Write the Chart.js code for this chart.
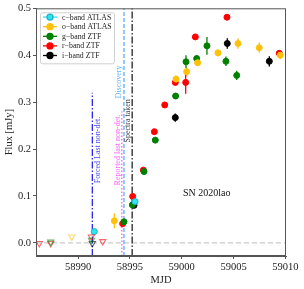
<!DOCTYPE html>
<html>
<head>
<meta charset="utf-8">
<script src="https://cdn.jsdelivr.net/npm/chart.js@4.4.0/dist/chart.umd.min.js"></script>
<style>
  html, body { margin: 0; padding: 0; background: #fff; }
  #wrap { width: 304px; height: 289px; }
</style>
</head>
<body>
<div id="wrap"><canvas id="lc" width="304" height="289"></canvas></div>
<script>
// axis ticks
const xTicks = [58990, 58995, 59000, 59005, 59010];
const yTicks = [0.0, 0.1, 0.2, 0.3, 0.4, 0.5];

// detections per band: MJD, flux [mJy], error
const cMjd  = [58991.57, 58995.50];
const cFlux = [0.024, 0.088];
const cErr  = [0.004, 0.004];

const oMjd  = [58993.50, 58999.45, 59000.47, 59001.53, 59003.49, 59005.42, 59007.47, 59009.50];
const oFlux = [0.047, 0.349, 0.365, 0.384, 0.405, 0.425, 0.416, 0.400];
const oErr  = [0.016, 0.008, 0.009, 0.007, 0.007, 0.011, 0.011, 0.008];

const gMjd  = [58994.43, 58995.24, 58996.36, 58997.45, 58999.41, 59000.41, 59001.44, 59002.43, 59004.26, 59005.30];
const gFlux = [0.045, 0.081, 0.152, 0.219, 0.313, 0.386, 0.393, 0.420, 0.387, 0.357];
const gErr  = [0.004, 0.004, 0.005, 0.005, 0.005, 0.014, 0.006, 0.019, 0.010, 0.010];

const rMjd  = [58994.30, 58995.27, 58996.30, 58997.36, 58998.36, 58999.38, 59000.38, 59001.31, 59004.36, 59009.40];
const rFlux = [0.041, 0.099, 0.155, 0.237, 0.294, 0.342, 0.342, 0.439, 0.481, 0.404];
const rErr  = [0.004, 0.004, 0.004, 0.004, 0.004, 0.005, 0.024, 0.005, 0.006, 0.006];

const iMjd  = [58995.40, 58999.38, 59004.39, 59008.44];
const iFlux = [0.080, 0.267, 0.425, 0.387];
const iErr  = [0.004, 0.009, 0.011, 0.011];

// non-detections (upper limits)
const oLimMjd  = [58989.40];
const oLimFlux = [0.013];
const gLimMjd  = [58987.37, 58991.30];
const gLimFlux = [0.002, 0.006];
const rLimMjd  = [58986.27, 58987.37, 58991.29, 58992.38];
const rLimFlux = [-0.001, -0.001, 0.013, 0.003];
const iLimMjd  = [58991.38];
const iLimFlux = [-0.001];

// epochs marked by vertical lines
const forcedMjd = 58991.38;
const reportedMjd = 58994.22;
const discoveryMjd = 58994.43;
const spectraMjd = 58995.22;

const SERIF = "'Liberation Serif', 'DejaVu Serif', serif";

const bands = [
    { label: 'c\u2212band ATLAS', color: '#2ee6f0', edge: '#1fb0c8', mjd: cMjd, flux: cFlux, err: cErr },
    { label: 'o\u2212band ATLAS', color: '#ffc107', edge: '#ffc107', mjd: oMjd, flux: oFlux, err: oErr, limMjd: oLimMjd, limFlux: oLimFlux },
    { label: 'g\u2212band ZTF', color: '#008000', edge: '#008000', mjd: gMjd, flux: gFlux, err: gErr, limMjd: gLimMjd, limFlux: gLimFlux },
    { label: 'r\u2212band ZTF', color: '#ff0000', edge: '#ff0000', mjd: rMjd, flux: rFlux, err: rErr, limMjd: rLimMjd, limFlux: rLimFlux },
    { label: 'i\u2212band ZTF', color: '#000000', edge: '#000000', mjd: iMjd, flux: iFlux, err: iErr, limMjd: iLimMjd, limFlux: iLimFlux }
];

function toPoints(xs, ys) {
    return xs.map((x, i) => ({ x: x, y: ys[i] }));
}

function fade(hex, a) {
    const n = parseInt(hex.slice(1), 16);
    return `rgba(${(n >> 16) & 255}, ${(n >> 8) & 255}, ${n & 255}, ${a})`;
}

const datasets = [];
// upper limits first so detections sit on top
bands.forEach(b => {
    if (!b.limMjd) return;
    datasets.push({
        data: toPoints(b.limMjd, b.limFlux),
        pointStyle: 'triangle',
        rotation: 180,
        pointRadius: 3.6,
        borderWidth: 1.1,
        borderColor: fade(b.color, 0.6),
        backgroundColor: 'rgba(0,0,0,0)',
        showLine: false
    });
});
bands.forEach(b => {
    datasets.push({
        label: b.label,
        data: toPoints(b.mjd, b.flux),
        errors: b.err,
        errColor: b.color,
        pointStyle: 'circle',
        pointRadius: 3,
        borderWidth: 1,
        borderColor: b.edge,
        backgroundColor: b.color,
        showLine: false
    });
});

// vertical markers and their labels
const vLines = [
    { x: forcedMjd, yTop: 0.32, color: '#2a2aee', dash: [7, 2, 1.5, 2], width: 1.3 },
    { x: discoveryMjd, yTop: null, color: '#62b4ff', dash: [4, 2], width: 1.4 },
    { x: reportedMjd, yTop: 0.28, color: '#ff66ff', dash: [1.5, 2], width: 1.4 },
    { x: spectraMjd, yTop: null, color: '#222222', dash: [7, 2, 1.5, 2], width: 1.3 }
];
const vLabels = [
    { text: 'Forced Last non-det.', x: forcedMjd, dx: 6, y: 0.198, color: '#4a4af0' },
    { text: 'Reported last non-det.', x: reportedMjd, dx: -3.5, y: 0.198, color: '#ff66ff' },
    { text: 'Discovery', x: discoveryMjd, dx: -5, y: 0.343, color: '#62b4ff' },
    { text: 'Spectra taken', x: spectraMjd, dx: -4.5, y: 0.26, color: '#444444' }
];

const overlay = {
    id: 'overlay',
    beforeDatasetsDraw(chart) {
        const { ctx, chartArea: a, scales: { x, y } } = chart;
        ctx.save();
        ctx.beginPath();
        ctx.rect(a.left, a.top, a.right - a.left, a.bottom - a.top);
        ctx.clip();

        // zero flux reference
        ctx.strokeStyle = '#cccccc';
        ctx.lineWidth = 1.4;
        ctx.setLineDash([5, 3]);
        ctx.beginPath();
        ctx.moveTo(a.left, y.getPixelForValue(0));
        ctx.lineTo(a.right, y.getPixelForValue(0));
        ctx.stroke();

        vLines.forEach(l => {
            const px = x.getPixelForValue(l.x);
            ctx.strokeStyle = l.color;
            ctx.lineWidth = l.width;
            ctx.setLineDash(l.dash);
            ctx.beginPath();
            ctx.moveTo(px, a.bottom);
            ctx.lineTo(px, l.yTop === null ? a.top : y.getPixelForValue(l.yTop));
            ctx.stroke();
        });
        ctx.setLineDash([]);

        // error bars
        chart.data.datasets.forEach(ds => {
            if (!ds.errors) return;
            ctx.strokeStyle = ds.errColor;
            ctx.lineWidth = 1.3;
            ds.data.forEach((p, i) => {
                const px = x.getPixelForValue(p.x);
                ctx.beginPath();
                ctx.moveTo(px, y.getPixelForValue(p.y - ds.errors[i]));
                ctx.lineTo(px, y.getPixelForValue(p.y + ds.errors[i]));
                ctx.stroke();
            });
        });
        ctx.restore();
    },
    afterDatasetsDraw(chart) {
        const { ctx, chartArea: a, scales: { x, y } } = chart;
        ctx.save();

        // line labels, rotated
        ctx.font = `8px ${SERIF}`;
        ctx.textAlign = 'center';
        ctx.textBaseline = 'middle';
        vLabels.forEach(t => {
            ctx.save();
            ctx.translate(x.getPixelForValue(t.x) + t.dx, y.getPixelForValue(t.y));
            ctx.rotate(-Math.PI / 2);
            ctx.fillStyle = t.color;
            ctx.fillText(t.text, 0, 0);
            ctx.restore();
        });

        // object name
        ctx.fillStyle = '#111';
        ctx.font = `10px ${SERIF}`;
        ctx.fillText('SN 2020lao', x.getPixelForValue(59002.4), y.getPixelForValue(0.106));

        // frame
        ctx.strokeStyle = '#555';
        ctx.lineWidth = 1;
        ctx.strokeRect(a.left + 0.5, a.top + 0.5, a.right - a.left - 1, a.bottom - a.top - 1);

        // legend box
        const lx = a.left + 4, ly = a.top + 4, lw = 74, lh = 51;
        ctx.fillStyle = 'rgba(255,255,255,0.85)';
        ctx.strokeStyle = '#d0d0d0';
        ctx.lineWidth = 1;
        ctx.beginPath();
        ctx.roundRect(lx + 0.5, ly + 0.5, lw, lh, 2);
        ctx.fill();
        ctx.stroke();

        ctx.font = `7.8px ${SERIF}`;
        ctx.textAlign = 'left';
        ctx.textBaseline = 'middle';
        bands.forEach((b, i) => {
            const ry = ly + 4.8 + i * 9.6;
            ctx.strokeStyle = b.color;
            ctx.lineWidth = 1.3;
            ctx.beginPath();
            ctx.moveTo(lx + 3, ry);
            ctx.lineTo(lx + 17, ry);
            ctx.stroke();
            ctx.fillStyle = b.color;
            ctx.strokeStyle = b.edge;
            ctx.beginPath();
            ctx.arc(lx + 10, ry, 3, 0, Math.PI * 2);
            ctx.fill();
            ctx.stroke();
            ctx.fillStyle = '#222';
            ctx.fillText(b.label, lx + 22, ry + 0.5);
        });
        ctx.restore();
    }
};

new Chart(document.getElementById('lc'), {
    type: 'scatter',
    data: { datasets: datasets },
    plugins: [overlay],
    options: {
        responsive: false,
        animation: false,
        devicePixelRatio: 1,
        layout: { padding: { top: 8, right: 18, left: 0, bottom: 0 } },
        plugins: {
            legend: { display: false },
            tooltip: { enabled: false }
        },
        scales: {
            x: {
                type: 'linear',
                min: 58985.95,
                max: 59010.05,
                afterBuildTicks: s => { s.ticks = xTicks.map(v => ({ value: v })); },
                afterFit: s => { s.height = 33; },
                grid: { drawOnChartArea: false, drawTicks: true, tickLength: 3, color: '#555' },
                border: { display: true, color: '#555' },
                ticks: {
                    color: '#222',
                    padding: 2,
                    maxRotation: 0,
                    font: { family: SERIF, size: 10.5 },
                    callback: v => String(v)
                },
                title: {
                    display: true,
                    text: 'MJD',
                    color: '#222',
                    font: { family: SERIF, size: 10.5 },
                    padding: { top: 0, bottom: 2 }
                }
            },
            y: {
                type: 'linear',
                min: -0.028,
                max: 0.5,
                afterBuildTicks: s => { s.ticks = yTicks.map(v => ({ value: v })); },
                afterFit: s => { s.width = 36; },
                grid: { drawOnChartArea: false, drawTicks: true, tickLength: 3, color: '#555' },
                border: { display: true, color: '#555' },
                ticks: {
                    color: '#222',
                    padding: 2,
                    font: { family: SERIF, size: 10.5 },
                    callback: v => v.toFixed(1)
                },
                title: {
                    display: true,
                    text: 'Flux [mJy]',
                    color: '#222',
                    font: { family: SERIF, size: 10.5 },
                    padding: { top: 3, bottom: 0 }
                }
            }
        }
    }
});
</script>
</body>
</html>
